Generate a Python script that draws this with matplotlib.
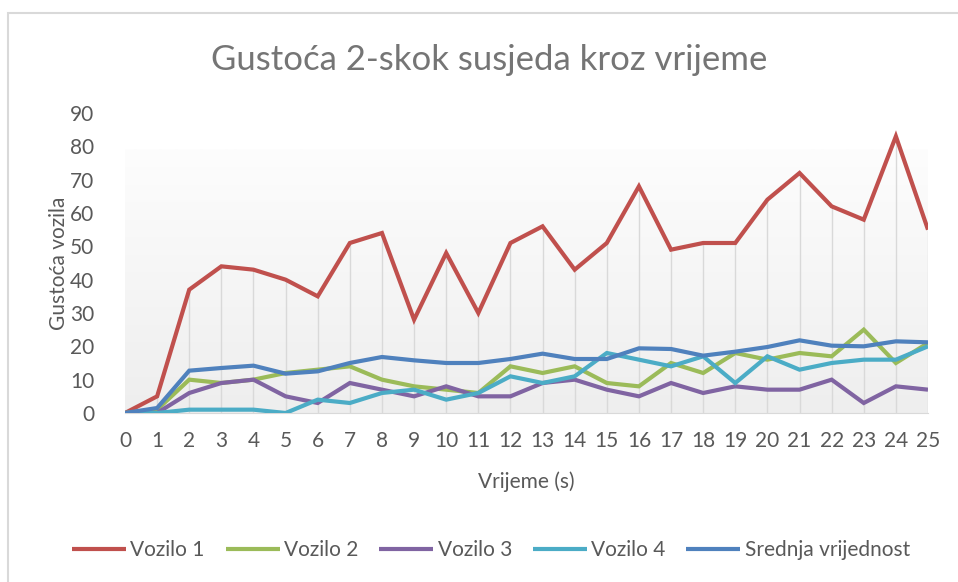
import numpy as np
import matplotlib.pyplot as plt
from matplotlib.colors import LinearSegmentedColormap
from matplotlib.patches import Rectangle

# Gustoca 2-skok susjeda po vozilu, svake sekunde
vrijeme = list(range(26))
vozilo_1 = [0, 5, 37, 44, 43, 40, 35, 51, 54, 28, 48, 30, 51, 56, 43, 51, 68, 49, 51, 51, 64, 72, 62, 58, 83, 55]
vozilo_2 = [0, 1, 10, 9, 10, 12, 13, 14, 10, 8, 7, 6, 14, 12, 14, 9, 8, 15, 12, 18, 16, 18, 17, 25, 15, 21]
vozilo_3 = [0, 0, 6, 9, 10, 5, 3, 9, 7, 5, 8, 5, 5, 9, 10, 7, 5, 9, 6, 8, 7, 7, 10, 3, 8, 7]
vozilo_4 = [0, 0, 1, 1, 1, 0, 4, 3, 6, 7, 4, 6, 11, 9, 11, 18, 16, 14, 17, 9, 17, 13, 15, 16, 16, 20]
srednja = [0, 1.5, 12.7, 13.5, 14.2, 11.8, 12.5, 15, 16.8, 15.8, 15, 15, 16.2, 17.8, 16.2,
           16.2, 19.4, 19.2, 17.2, 18.4, 19.8, 21.8, 20.2, 20, 21.5, 21.2]

serije = [
    ("Vozilo 1", vozilo_1, "#C0504D"),
    ("Vozilo 2", vozilo_2, "#9BBB59"),
    ("Vozilo 3", vozilo_3, "#8064A2"),
    ("Vozilo 4", vozilo_4, "#4BACC6"),
    ("Srednja vrijednost", srednja, "#4F81BD"),
]

plt.rcParams['font.family'] = ['Lato', 'DejaVu Sans']
tekst = '#595959'

fig = plt.figure(figsize=(9.58, 5.82), dpi=100)
ax = fig.add_axes([125 / 958, 1 - 413 / 582, 803 / 958, 300 / 582])

# okvir grafikona
fig.add_artist(Rectangle((7.5 / 958, -0.1), 1.2, (582 - 13) / 582 + 0.1,
                         transform=fig.transFigure, fill=False, ec='#D9D9D9', lw=1.5))

# pozadina s gradijentom
grad = LinearSegmentedColormap.from_list('g', ['#EEEEEE', '#FDFDFD'])
ax.imshow(np.linspace(0, 1, 256).reshape(-1, 1), extent=[0, 25, 0, 79.2], origin='lower',
          aspect='auto', cmap=grad, zorder=0)

# okomite linije od najvise tocke do osi
vrh = np.max([s[1] for s in serije], axis=0)
ax.vlines(vrijeme, 0, vrh, color='#D9D9D9', lw=1, zorder=1)

for ime, vrijednosti, boja in serije:
    ax.plot(vrijeme, vrijednosti, color=boja, lw=3, label=ime, zorder=3,
            solid_joinstyle='miter', solid_capstyle='butt')

ax.set_xlim(0, 25)
ax.set_ylim(0, 90)
ax.set_xticks(vrijeme)
ax.set_yticks(range(0, 91, 10))
ax.set_facecolor('white')
for s in ['top', 'right', 'left']:
    ax.spines[s].set_visible(False)
ax.spines['bottom'].set_color('#D9D9D9')
ax.tick_params(length=0, labelsize=15, colors=tekst)
ax.tick_params(axis='x', pad=13)
ax.tick_params(axis='y', pad=22)

ax.set_xlabel('Vrijeme (s)', fontsize=15, color=tekst, labelpad=15)
ax.set_ylabel('Gustoća vozila', fontsize=15, color=tekst, labelpad=1)
fig.text(489 / 958, 1 - 60 / 582, 'Gustoća 2-skok susjeda kroz vrijeme', ha='center', va='center',
         fontsize=25, color='#757575')

fig.legend(loc='center', bbox_to_anchor=(491 / 958, 1 - 550 / 582), ncol=5, frameon=False,
           fontsize=15, handlelength=2.6, handletextpad=0.2, columnspacing=1.0, labelcolor=tekst)

fig.savefig('out.png', dpi=100)
